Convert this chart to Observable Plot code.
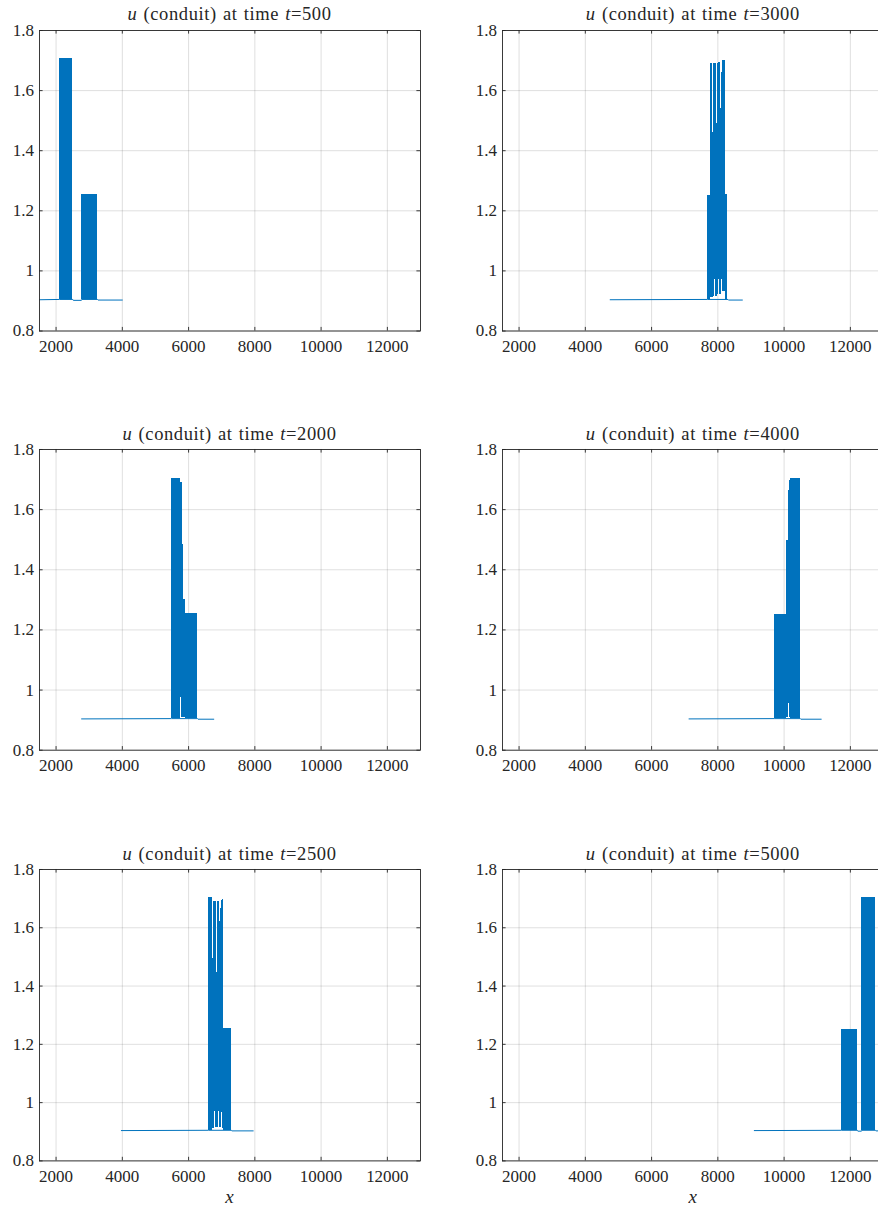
<!DOCTYPE html>
<html><head><meta charset="utf-8">
<script src="https://cdn.jsdelivr.net/npm/d3@7"></script>
<script src="https://cdn.jsdelivr.net/npm/@observablehq/plot@0.6"></script>
<style>
html,body{margin:0;padding:0;background:#fff;}
#wrap{position:relative;width:878px;height:1209px;overflow:hidden;font-family:"Liberation Serif",serif;color:#262626;}
.panel{position:absolute;}
.title{position:absolute;font-size:18.5px;line-height:1;white-space:nowrap;transform:translateX(-50%);letter-spacing:0.6px;word-spacing:1px;}
.xlab{position:absolute;font-size:19px;line-height:1;font-style:italic;transform:translateX(-50%);}
</style></head><body><div id="wrap"></div>
<script>
// ---- data ----
const times = [500, 3000, 2000, 4000, 2500, 5000];
const xTicks = [2000, 4000, 6000, 8000, 10000, 12000];
const yTicks = [0.8, 1.0, 1.2, 1.4, 1.6, 1.8];
const xDomain = [1500, 13000];
const yDomain = [0.8, 1.8];

// baseline paths [x, u]
const base500  = [[1500,0.904],[2100,0.905],[2505,0.905],[2520,0.902],[2765,0.902],[2775,0.905],[3250,0.905],[3265,0.903],[4000,0.903]];
const base3000 = [[4750,0.904],[7690,0.905],[8305,0.905],[8320,0.903],[8740,0.903]];
const base2000 = [[2770,0.904],[5484,0.905],[6270,0.905],[6285,0.903],[6760,0.903]];
const base4000 = [[7130,0.904],[9700,0.905],[10490,0.905],[10505,0.903],[11120,0.903]];
const base2500 = [[3970,0.904],[6600,0.905],[7290,0.905],[7305,0.903],[7950,0.903]];
const base5000 = [[9100,0.904],[11726,0.905],[12210,0.905],[12225,0.902],[12335,0.902],[12345,0.905],[12755,0.905],[12770,0.903],[13000,0.903]];

// dense oscillation envelopes [x1, x2, uLow, uHigh]
const band500 = [[2100,2505,0.905,1.706],[2770,3250,0.905,1.255]];
const band3000 = [
  [7690,7775,0.905,1.252],[7775,7830,0.91,1.69],[7830,7860,0.91,1.46],[7860,7905,0.915,1.69],
  [7905,7935,0.97,1.69],[7935,7965,0.915,1.69],[7965,7995,0.915,1.49],[7995,8030,0.92,1.69],
  [8030,8060,0.97,1.692],[8060,8075,0.92,1.692],[8075,8105,0.92,1.54],[8105,8125,0.93,1.66],
  [8125,8150,0.97,1.66],[8150,8235,0.93,1.70],[8235,8305,0.905,1.253]];
const band2000 = [
  [5484,5756,0.905,1.703],[5756,5770,0.91,1.69],[5770,5800,0.975,1.69],[5800,5826,0.91,1.69],
  [5826,5856,0.91,1.485],[5856,5866,0.91,1.30],[5866,5880,0.91,1.595],[5880,5906,0.91,1.30],
  [5906,6270,0.905,1.253]];
const band4000 = [
  [9700,10060,0.905,1.252],[10060,10080,0.905,1.37],[10080,10120,0.91,1.497],
  [10120,10150,0.955,1.663],[10150,10185,0.91,1.698],[10185,10490,0.905,1.705]];
const band2500 = [
  [6600,6720,0.905,1.703],[6720,6750,0.91,1.495],[6750,6775,0.91,1.69],[6775,6800,0.97,1.69],
  [6800,6835,0.915,1.69],[6835,6865,0.915,1.445],[6865,6890,0.915,1.69],[6890,6920,0.97,1.69],
  [6920,6935,0.915,1.69],[6935,6960,0.915,1.62],[6960,6995,0.915,1.666],[6995,7020,0.965,1.695],
  [7020,7065,0.91,1.697],[7065,7290,0.905,1.254]];
const band5000 = [[11726,12210,0.905,1.252],[12345,12755,0.905,1.705]];

const bases = {500: base500, 3000: base3000, 2000: base2000, 4000: base4000, 2500: base2500, 5000: base5000};
const bands = {500: band500, 3000: band3000, 2000: band2000, 4000: band4000, 2500: band2500, 5000: band5000};

// ---- layout ----
const colLeft = [39, 502.3];
const rowTop = [29.5, 449.3, 869.3];
const rowH = [300.5, 300.7, 291.4];
const plotW = 381;
const mL = 39, mR = 10, mT = 30, mB = 30;
const blue = "#0072BD", axc = "#262626";
const fontStack = "Liberation Serif";
const wrap = document.getElementById("wrap");

times.forEach((t, i) => {
  const col = i % 2, row = Math.floor(i / 2);
  const h = rowH[row];
  const kx = (xDomain[1] - xDomain[0]) / plotW;
  const ky = (yDomain[1] - yDomain[0]) / h;
  const tl = 3.6;
  const chart = Plot.plot({
    width: mL + plotW + mR,
    height: mT + h + mB,
    marginLeft: mL, marginRight: mR, marginTop: mT, marginBottom: mB,
    style: {fontFamily: fontStack, fontSize: "17px", background: "transparent", overflow: "visible"},
    x: {domain: xDomain, label: null},
    y: {domain: yDomain, label: null},
    marks: [
      Plot.gridX(xTicks, {stroke: axc, strokeOpacity: 0.15, strokeWidth: 1}),
      Plot.gridY(yTicks, {stroke: axc, strokeOpacity: 0.15, strokeWidth: 1}),
      Plot.line(bases[t], {x: d => d[0], y: d => d[1], stroke: blue, strokeWidth: 1}),
      Plot.rect(bands[t], {x1: d => d[0], x2: d => d[1], y1: d => d[2], y2: d => d[3], fill: blue, inset: 0, shapeRendering: "crispEdges"}),
      Plot.frame({stroke: axc, strokeWidth: 0.9}),
      Plot.ruleX(xTicks, {x: d => d, y1: yDomain[0], y2: yDomain[0] + tl * ky, stroke: axc, strokeWidth: 0.9}),
      Plot.ruleX(xTicks, {x: d => d, y1: yDomain[1] - tl * ky, y2: yDomain[1], stroke: axc, strokeWidth: 0.9}),
      Plot.ruleY(yTicks, {y: d => d, x1: xDomain[0], x2: xDomain[0] + tl * kx, stroke: axc, strokeWidth: 0.9}),
      Plot.ruleY(yTicks, {y: d => d, x1: xDomain[1] - tl * kx, x2: xDomain[1], stroke: axc, strokeWidth: 0.9}),
      Plot.axisX(xTicks, {anchor: "bottom", tickSize: 0, tickPadding: 9, tickFormat: d => String(d), color: axc, label: null, fontFamily: fontStack}),
      Plot.axisY(yTicks, {anchor: "left", tickSize: 0, tickPadding: 5.5, tickFormat: d => d === 1 ? "1" : d.toFixed(1), color: axc, label: null, fontFamily: fontStack})
    ]
  });
  chart.classList.add("panel");
  chart.style.left = (colLeft[col] - mL) + "px";
  chart.style.top = (rowTop[row] - mT) + "px";
  wrap.appendChild(chart);

  const title = document.createElement("div");
  title.className = "title";
  title.innerHTML = `<i>u</i> (conduit) at time <i>t</i>=${t}`;
  title.style.left = (colLeft[col] + plotW / 2) + "px";
  title.style.top = (rowTop[row] - 24.5) + "px";
  wrap.appendChild(title);

  if (row === 2) {
    const xl = document.createElement("div");
    xl.className = "xlab";
    xl.textContent = "x";
    xl.style.left = (colLeft[col] + plotW / 2) + "px";
    xl.style.top = (rowTop[row] + h + 26) + "px";
    wrap.appendChild(xl);
  }
});
</script></body></html>
